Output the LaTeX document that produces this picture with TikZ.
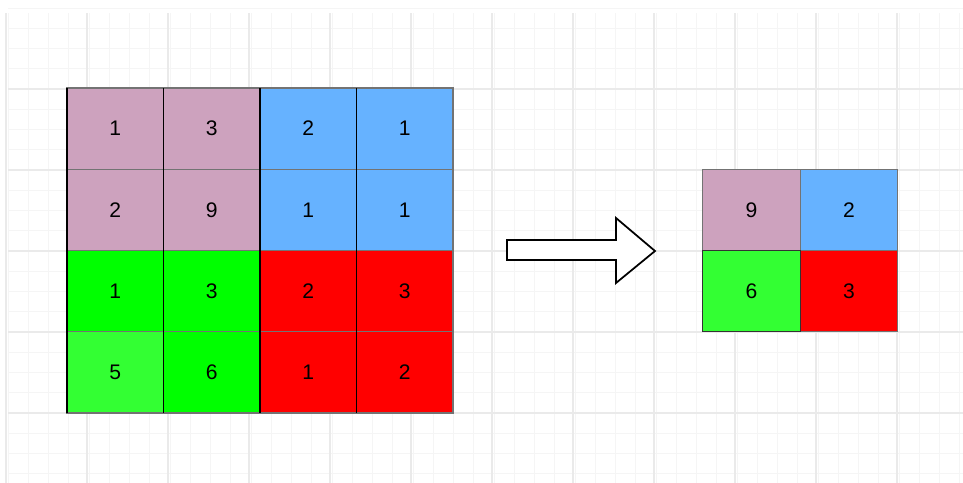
\documentclass[tikz,border=0pt]{standalone}
\usepackage{fontspec}
\setmainfont{Liberation Sans}
\usetikzlibrary{positioning}
\definecolor{poolpink}{HTML}{CDA2BE}
\definecolor{poolblue}{HTML}{66B2FF}
\definecolor{poolgreen}{HTML}{00FF00}
\definecolor{poollime}{HTML}{33FF33}
\definecolor{poolred}{HTML}{FF0000}
\definecolor{gridminor}{HTML}{F5F5F5}
\definecolor{gridmajor}{HTML}{EAEAEA}

\begin{document}
\begin{tikzpicture}[x=0.02cm,y=-0.02cm]
    \tikzstyle{cell}=[draw=black!55,line width=0.6pt,inner sep=0pt,outer sep=0pt,minimum width=1.93cm,minimum height=1.625cm,font=\fontsize{12}{14}\selectfont]
    \tikzstyle{small}=[cell,minimum width=1.95cm]
    \useasboundingbox (0,0) rectangle (963,483);
    % background grid
    \foreach \i in {0,...,47} \draw[gridminor,line width=0.5pt] ({8+20.25*\i},13) -- ({8+20.25*\i},483);
    \foreach \j in {0,...,23} \draw[gridminor,line width=0.5pt] (8,{8+20.25*\j}) -- (963,{8+20.25*\j});
    \foreach \i in {0,...,11} \draw[gridmajor,line width=0.6pt] ({6+81*\i},13) -- ({6+81*\i},483);
    \foreach \j in {1,...,5} \draw[gridmajor,line width=0.6pt] (8,{8+81*\j}) -- (963,{8+81*\j});
    % input 4x4
    \node[cell,fill=poolpink] (a11) at (115.25,128.6) {1};
    \node[cell,fill=poolpink] (a12) at (211.75,128.6) {3};
    \node[cell,fill=poolblue] (a13) at (308.25,128.6) {2};
    \node[cell,fill=poolblue] (a14) at (404.75,128.6) {1};
    \node[cell,fill=poolpink] (a21) at (115.25,209.9) {2};
    \node[cell,fill=poolpink] (a22) at (211.75,209.9) {9};
    \node[cell,fill=poolblue] (a23) at (308.25,209.9) {1};
    \node[cell,fill=poolblue] (a24) at (404.75,209.9) {1};
    \node[cell,fill=poolgreen] (a31) at (115.25,291.1) {1};
    \node[cell,fill=poolgreen] (a32) at (211.75,291.1) {3};
    \node[cell,fill=poolred] (a33) at (308.25,291.1) {2};
    \node[cell,fill=poolred] (a34) at (404.75,291.1) {3};
    \node[cell,fill=poollime] (a41) at (115.25,372.4) {5};
    \node[cell,fill=poolgreen] (a42) at (211.75,372.4) {6};
    \node[cell,fill=poolred] (a43) at (308.25,372.4) {1};
    \node[cell,fill=poolred] (a44) at (404.75,372.4) {2};
    % column separators
    \draw[black,line width=0.8pt] (a11.north west) -- (a41.south west);
    \draw[black,line width=0.8pt] (a12.north west) -- (a42.south west);
    \draw[black,line width=0.8pt] (a13.north west) -- (a43.south west);
    \draw[black,line width=0.8pt] (a14.north west) -- (a44.south west);
    % arrow
    \draw[black,line width=1pt,fill=white,line join=miter]
        (507,240) -- (616,240) -- (616,218) -- (655,251) -- (616,283) -- (616,260) -- (507,260) -- cycle;
    % pooled 2x2
    \node[small,fill=poolpink] (b11) at (751.5,210) {9};
    \node[small,fill=poolblue] (b12) at (849,210) {2};
    \node[small,fill=poolred] (b22) at (849,291.1) {3};
    \node[small,fill=poollime,draw=black!80] (b21) at (751.5,291.1) {6};
\end{tikzpicture}
\end{document}
